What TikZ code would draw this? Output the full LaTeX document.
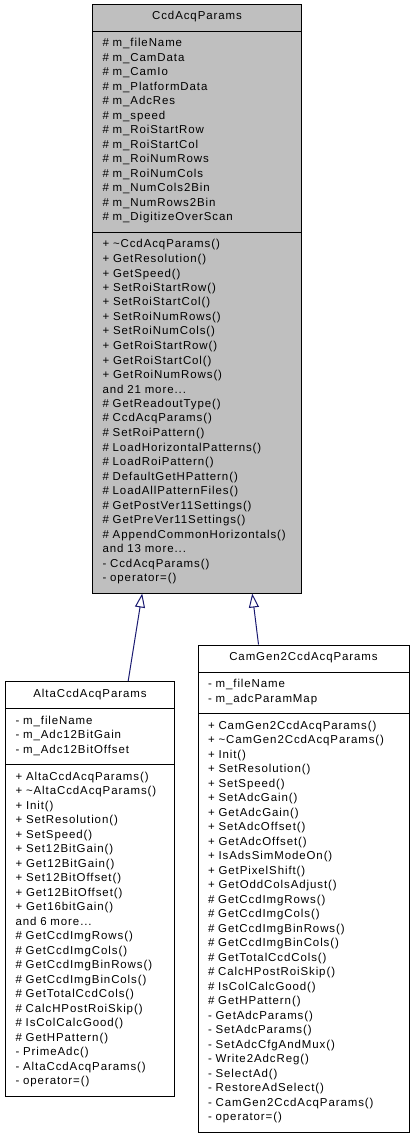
\documentclass[tikz,border=0pt]{standalone}
\usepackage{fontspec}
\setmainfont{Liberation Sans}[LetterSpace=8]
\usetikzlibrary{arrows.meta,shapes.multipart}
\definecolor{grisclasse}{RGB}{191,191,191}
\definecolor{bleuherit}{RGB}{25,25,112}
\newcommand\hautstrut{\rule{0pt}{8.25pt}}
\newcommand\basstrut{\rule[-5.25pt]{0pt}{5.25pt}}
\newcommand\classe[3]{\hbox to\hsize{\hfil\hautstrut#1\basstrut\hfil}
  \nodepart{two}\noindent\hautstrut#2\basstrut
  \nodepart{three}\noindent\hautstrut#3\basstrut}

\begin{document}
\begin{tikzpicture}[x=0.75pt,y=-0.75pt]
\tikzset{classe/.style={draw=black,line width=0.75pt,rectangle split,rectangle split parts=3,
  anchor=north west,inner xsep=7.5pt,inner ysep=3pt,align=left,
  font=\fontsize{8.6pt}{10.875pt}\selectfont},
  herit/.style={draw=bleuherit,line width=0.75pt,-{Triangle[open,length=10.5pt,width=7.5pt]}}}
\useasboundingbox (0,0) rectangle (413,1137);
%classe de base
\node[classe,fill=grisclasse,text width=141.75pt] (ccd) at (92,4) {\classe{CcdAcqParams}
{\# m\_fileName\\ \# m\_CamData\\ \# m\_CamIo\\ \# m\_PlatformData\\ \# m\_AdcRes\\
\# m\_speed\\ \# m\_RoiStartRow\\ \# m\_RoiStartCol\\ \# m\_RoiNumRows\\ \# m\_RoiNumCols\\
\# m\_NumCols2Bin\\ \# m\_NumRows2Bin\\ \# m\_DigitizeOverScan}
{+ \textasciitilde CcdAcqParams()\\ + GetResolution()\\ + GetSpeed()\\ + SetRoiStartRow()\\
+ SetRoiStartCol()\\ + SetRoiNumRows()\\ + SetRoiNumCols()\\ + GetRoiStartRow()\\
+ GetRoiStartCol()\\ + GetRoiNumRows()\\ and 21 more...\\ \# GetReadoutType()\\
\# CcdAcqParams()\\ \# SetRoiPattern()\\ \# LoadHorizontalPatterns()\\ \# LoadRoiPattern()\\
\# DefaultGetHPattern()\\ \# LoadAllPatternFiles()\\ \# GetPostVer11Settings()\\
\# GetPreVer11Settings()\\ \# AppendCommonHorizontals()\\ and 13 more...\\
- CcdAcqParams()\\ - operator=()}};
%classes derivees
\node[classe,fill=white,text width=111.75pt] (alta) at (5,681) {\classe{AltaCcdAcqParams}
{- m\_fileName\\ - m\_Adc12BitGain\\ - m\_Adc12BitOffset}
{+ AltaCcdAcqParams()\\ + \textasciitilde AltaCcdAcqParams()\\ + Init()\\ + SetResolution()\\
+ SetSpeed()\\ + Set12BitGain()\\ + Get12BitGain()\\ + Set12BitOffset()\\ + Get12BitOffset()\\
+ Get16bitGain()\\ and 6 more...\\ \# GetCcdImgRows()\\ \# GetCcdImgCols()\\
\# GetCcdImgBinRows()\\ \# GetCcdImgBinCols()\\ \# GetTotalCcdCols()\\ \# CalcHPostRoiSkip()\\
\# IsColCalcGood()\\ \# GetHPattern()\\ - PrimeAdc()\\ - AltaCcdAcqParams()\\ - operator=()}};
\node[classe,fill=white,text width=143.25pt] (cam) at (197.5,644.5) {\classe{CamGen2CcdAcqParams}
{- m\_fileName\\ - m\_adcParamMap}
{+ CamGen2CcdAcqParams()\\ + \textasciitilde CamGen2CcdAcqParams()\\ + Init()\\
+ SetResolution()\\ + SetSpeed()\\ + SetAdcGain()\\ + GetAdcGain()\\ + SetAdcOffset()\\
+ GetAdcOffset()\\ + IsAdsSimModeOn()\\ + GetPixelShift()\\ + GetOddColsAdjust()\\
\# GetCcdImgRows()\\ \# GetCcdImgCols()\\ \# GetCcdImgBinRows()\\ \# GetCcdImgBinCols()\\
\# GetTotalCcdCols()\\ \# CalcHPostRoiSkip()\\ \# IsColCalcGood()\\ \# GetHPattern()\\
- GetAdcParams()\\ - SetAdcParams()\\ - SetAdcCfgAndMux()\\ - Write2AdcReg()\\ - SelectAd()\\
- RestoreAdSelect()\\ - CamGen2CcdAcqParams()\\ - operator=()}};
%heritage
\draw[herit] ([xshift=28.65pt]alta.north) -- ([xshift=-41.1pt]ccd.south);
\draw[herit] ([xshift=-33.75pt]cam.north) -- ([xshift=41.4pt]ccd.south);
\end{tikzpicture}
\end{document}
